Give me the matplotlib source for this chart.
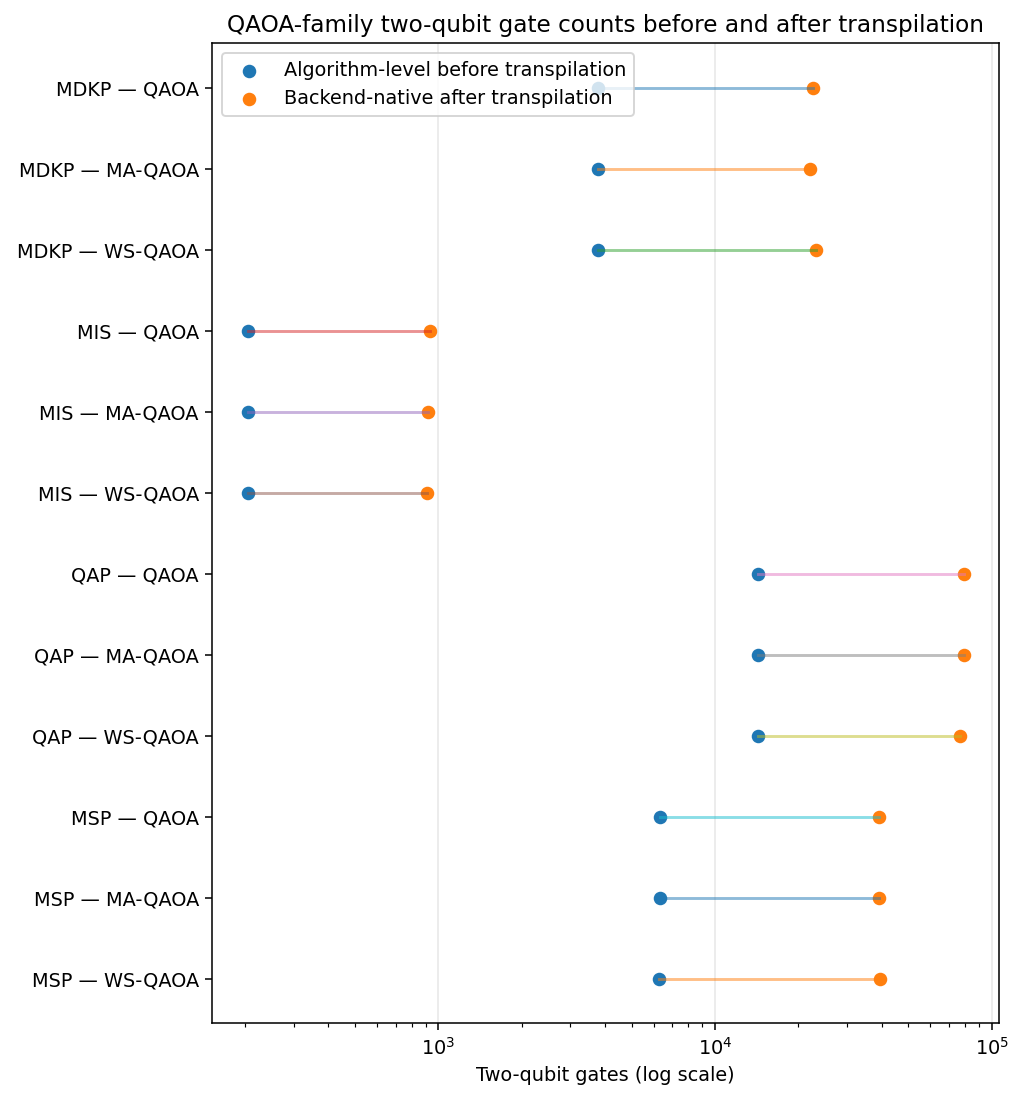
import matplotlib
matplotlib.use("Agg")
import matplotlib.pyplot as plt
import numpy as np

labels = [
    "MDKP — QAOA", "MDKP — MA-QAOA", "MDKP — WS-QAOA",
    "MIS — QAOA", "MIS — MA-QAOA", "MIS — WS-QAOA",
    "QAP — QAOA", "QAP — MA-QAOA", "QAP — WS-QAOA",
    "MSP — QAOA", "MSP — MA-QAOA", "MSP — WS-QAOA",
]
before = [3775, 3775, 3775, 205, 205, 205, 14330, 14330, 14330, 6307, 6307, 6290]
after = [22640, 22030, 23150, 932, 917, 912, 79150, 79150, 76560, 39030, 39220, 39350]

DPI = 139
fig = plt.figure(figsize=(1024 / DPI, 1100 / DPI), dpi=DPI)
ax = fig.add_axes([0.2073, 0.0697, 0.9759 - 0.2073, 0.9606 - 0.0697])

y = np.arange(len(labels))
ax.scatter(before, y, label="Algorithm-level before transpilation", color="C0")
ax.scatter(after, y, label="Backend-native after transpilation", color="C1")
for i in range(len(labels)):
    ax.plot([before[i], after[i]], [y[i], y[i]], color=f"C{i % 10}", alpha=0.5, lw=1.5)

ax.set_xscale("log")
ax.set_yticks(y)
ax.set_yticklabels(labels)
ax.invert_yaxis()
ax.grid(axis="x", alpha=0.3)
ax.set_xlabel("Two-qubit gates (log scale)")
ax.set_title("QAOA-family two-qubit gate counts before and after transpilation")
ax.legend(loc="upper left")

fig.savefig("out.png", dpi=DPI)
